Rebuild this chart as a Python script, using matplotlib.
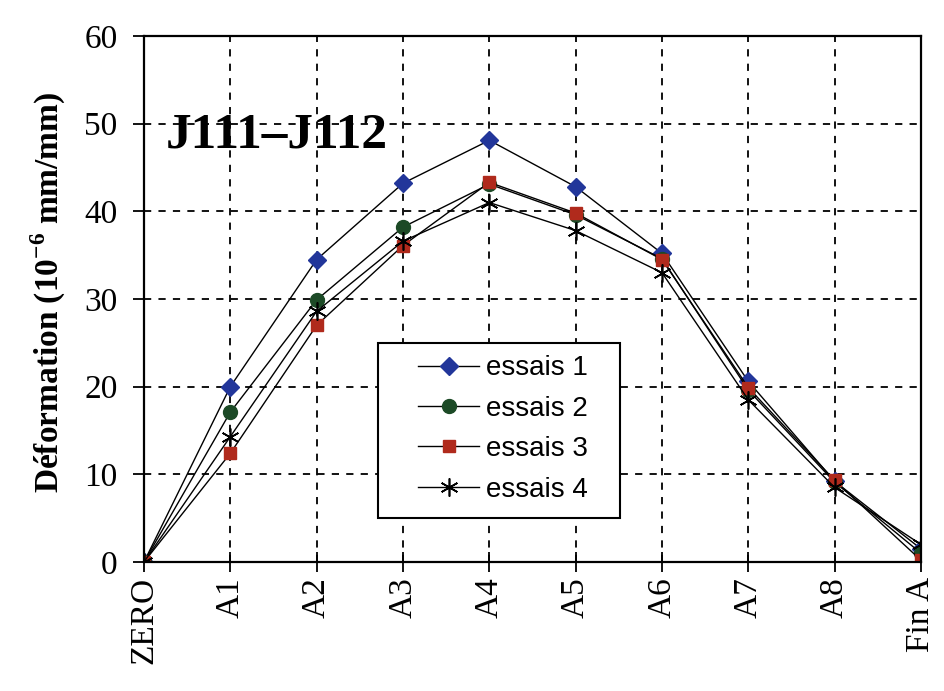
import matplotlib
matplotlib.use("Agg")
import matplotlib.pyplot as plt
from matplotlib.patches import Rectangle
import numpy as np

plt.rcParams["mathtext.fontset"] = "custom"
plt.rcParams["mathtext.rm"] = "Liberation Serif"
plt.rcParams["mathtext.bf"] = "Liberation Serif:bold"

categories = ["ZERO", "A1", "A2", "A3", "A4", "A5", "A6", "A7", "A8", "Fin A"]
essais1 = [0, 20.0, 34.5, 43.2, 48.1, 42.8, 35.2, 20.6, 9.2, 1.5]
essais2 = [0, 17.1, 29.9, 38.2, 43.1, 39.6, 34.6, 19.6, 9.1, 1.0]
essais3 = [0, 12.4, 27.0, 36.1, 43.3, 39.8, 34.5, 19.9, 9.3, 0.2]
essais4 = [0, 14.3, 28.6, 36.6, 41.0, 37.8, 33.0, 18.5, 8.5, 2.0]
series_labels = ["essais 1", "essais 2", "essais 3", "essais 4"]
yticks = [0, 10, 20, 30, 40, 50, 60]

fig = plt.figure(figsize=(9.45, 6.91), dpi=100)
ax = fig.add_axes([144/945, 1-562/691, (921-144)/945, (562-36)/691])

x = np.arange(len(categories))
styles = [
    dict(marker="D", markersize=9.5, markerfacecolor="#22369a", markeredgecolor="#22369a"),
    dict(marker="o", markersize=10, markerfacecolor="#1c4a26", markeredgecolor="#1c4a26"),
    dict(marker="s", markersize=8.5, markerfacecolor="#b02a1c", markeredgecolor="#b02a1c"),
    dict(marker=(6, 2, 0), markersize=13, markerfacecolor="black", markeredgecolor="black", markeredgewidth=1.2),
]
for vals, lab, st in zip([essais1, essais2, essais3, essais4], series_labels, styles):
    ax.plot(x, vals, color="black", lw=1.0, label=lab, **st)

ax.set_xlim(0, len(categories) - 1)
ax.set_ylim(0, 60)
ax.set_yticks(yticks)
ax.set_xticks(x)
ax.set_xticklabels(categories, rotation=90, family="Liberation Serif", fontsize=24)
for t in ax.get_yticklabels():
    t.set_family("Liberation Serif")
    t.set_fontsize(24)

ax.grid(True, color="black", linestyle=(0, (4, 4)), lw=1.3)
ax.set_axisbelow(True)
for sp in ax.spines.values():
    sp.set_linewidth(1.6)
ax.tick_params(axis="x", direction="inout", length=14, width=1.3, pad=4)
ax.tick_params(axis="y", direction="out", length=8, width=1.3, pad=11)

ax.set_ylabel("Déformation (10$^{\\mathbf{-6}}$ mm/mm)", family="Liberation Serif",
              fontweight="bold", fontsize=24, va="center")
ax.yaxis.set_label_coords(-0.1235, 0.513)
ax.text(0.028, 0.81, "J111–J112", transform=ax.transAxes, family="Liberation Serif",
        fontweight="bold", fontsize=37, ha="left", va="center")

frame = Rectangle((0.301, 0.084), 0.312, 0.332, transform=ax.transAxes, facecolor="white",
                  edgecolor="black", lw=1.5, zorder=4)
ax.add_patch(frame)
leg = ax.legend(loc="upper left", bbox_to_anchor=(0.3526, 0.393), prop={"family": "Liberation Sans", "size": 20},
                frameon=False, handlelength=2.2, borderpad=0, borderaxespad=0,
                labelspacing=0.52, handletextpad=0.25)
leg.set_zorder(5)

fig.savefig("out.png", dpi=100)
